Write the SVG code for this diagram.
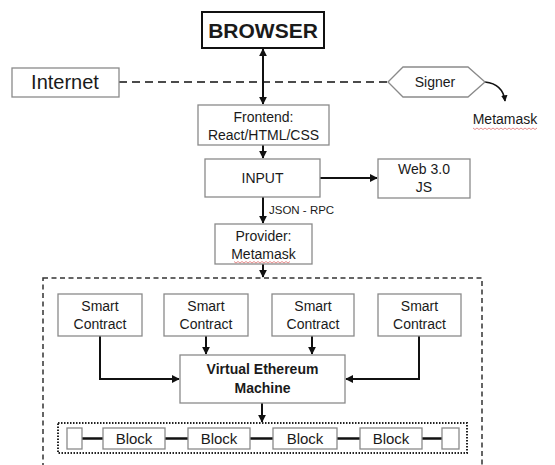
<svg xmlns="http://www.w3.org/2000/svg" width="555" height="465" viewBox="0 0 555 465">
<style>
.box{fill:#fff;stroke:#8a8a8a;stroke-width:1.3}
.t{font-family:"Liberation Sans",Arial,sans-serif;fill:#1a1a1a;text-anchor:middle}
.s14{font-size:14px}
.s15{font-size:15px}
.b{font-weight:bold}
.ln{fill:none;stroke:#111;stroke-width:2}
.thin{fill:none;stroke:#111;stroke-width:1.6}
.sq{fill:none;stroke:#e07070;stroke-width:0.8}
</style>
<defs>
<marker id="ah" viewBox="0 0 10 10" refX="9" refY="5" markerWidth="4" markerHeight="4" orient="auto-start-reverse" markerUnits="strokeWidth">
<path d="M0,0 L10,5 L0,10 z" fill="#111"/>
</marker>
</defs>
<rect width="555" height="465" fill="#fff"/>

<g id="connectors">
<line class="ln" x1="263" y1="49" x2="263" y2="104" marker-start="url(#ah)" marker-end="url(#ah)"/>
<line x1="119" y1="82" x2="388" y2="82" stroke="#111" stroke-width="1.6" stroke-dasharray="8,5"/>
<path class="thin" d="M485,82 Q503,84 505,101" marker-end="url(#ah)"/>
<line class="ln" x1="263" y1="145" x2="263" y2="158" marker-end="url(#ah)"/>
<line class="ln" x1="320" y1="178" x2="377" y2="178" marker-end="url(#ah)"/>
<line class="ln" x1="263" y1="197" x2="263" y2="223" marker-end="url(#ah)"/>
<line class="ln" x1="263" y1="264" x2="263" y2="277" marker-end="url(#ah)"/>
<path class="ln" d="M100,336 V379 H179" marker-end="url(#ah)"/>
<line class="ln" x1="206" y1="336" x2="206" y2="354" marker-end="url(#ah)"/>
<line class="ln" x1="312" y1="336" x2="312" y2="354" marker-end="url(#ah)"/>
<path class="ln" d="M419,336 V379 H346" marker-end="url(#ah)"/>
<line class="ln" x1="262" y1="403" x2="262" y2="422" marker-end="url(#ah)"/>
<g stroke="#111" stroke-width="2.5">
<line x1="82" y1="438.5" x2="103" y2="438.5"/>
<line x1="165" y1="438.5" x2="188" y2="438.5"/>
<line x1="250" y1="438.5" x2="273" y2="438.5"/>
<line x1="337" y1="438.5" x2="360" y2="438.5"/>
<line x1="422" y1="438.5" x2="442" y2="438.5"/>
</g>
</g>

<g id="browser">
<rect x="202" y="12" width="122" height="36" fill="#fff" stroke="#111" stroke-width="2"/>
<text class="t b" x="263" y="38" font-size="21">BROWSER</text>
</g>
<g id="internet">
<rect class="box" x="12" y="68" width="107" height="29"/>
<text class="t" x="65" y="89" font-size="20">Internet</text>
</g>
<g id="signer">
<polygon class="box" points="388,82 403,67 468,67 485,82 468,97 403,97"/>
<text class="t s14" x="435" y="87">Signer</text>
</g>
<g id="metamask">
<text class="t s14" x="505" y="124">Metamask</text>
<path class="sq" d="M473,128 l2,1.5 l2,-1.5 l2,1.5 l2,-1.5 l2,1.5 l2,-1.5 l2,1.5 l2,-1.5 l2,1.5 l2,-1.5 l2,1.5 l2,-1.5 l2,1.5 l2,-1.5 l2,1.5 l2,-1.5 l2,1.5 l2,-1.5 l2,1.5 l2,-1.5 l2,1.5 l2,-1.5 l2,1.5 l2,-1.5 l2,1.5 l2,-1.5 l2,1.5 l2,-1.5 l2,1.5 l2,-1.5 l2,1.5 l2,-1.5"/>
</g>
<g id="frontend">
<rect class="box" x="198" y="105" width="131" height="40"/>
<text class="t s14" x="263.5" y="122">Frontend:</text>
<text class="t s14" x="263.5" y="140">React/HTML/CSS</text>
</g>
<g id="input">
<rect class="box" x="205" y="159" width="115" height="38"/>
<text class="t s14" x="262.5" y="183">INPUT</text>
</g>
<g id="web3">
<rect class="box" x="378" y="159" width="92" height="39"/>
<text class="t s14" x="424" y="174">Web 3.0</text>
<text class="t s14" x="424" y="192">JS</text>
</g>
<text class="t" x="269" y="214" font-size="11.5" text-anchor="start" style="text-anchor:start">JSON - RPC</text>
<g id="provider">
<rect class="box" x="215" y="224" width="97" height="40"/>
<text class="t s14" x="263.5" y="241">Provider:</text>
<text class="t s14" x="263.5" y="259">Metamask</text>
<path class="sq" d="M234,261.5 l2,1.5 l2,-1.5 l2,1.5 l2,-1.5 l2,1.5 l2,-1.5 l2,1.5 l2,-1.5 l2,1.5 l2,-1.5 l2,1.5 l2,-1.5 l2,1.5 l2,-1.5 l2,1.5 l2,-1.5 l2,1.5 l2,-1.5 l2,1.5 l2,-1.5 l2,1.5 l2,-1.5 l2,1.5 l2,-1.5 l2,1.5 l2,-1.5 l2,1.5 l2,-1.5"/>
</g>

<g id="blockchain-area">
<rect x="43" y="278" width="439" height="200" fill="none" stroke="#333" stroke-width="1.5" stroke-dasharray="5,3.5"/>
</g>
<g id="sc1">
<rect class="box" x="58" y="294" width="84" height="42"/>
<text class="t s14" x="100" y="311">Smart</text>
<text class="t s14" x="100" y="329">Contract</text>
</g>
<g id="sc2">
<rect class="box" x="164" y="294" width="84" height="42"/>
<text class="t s14" x="206" y="311">Smart</text>
<text class="t s14" x="206" y="329">Contract</text>
</g>
<g id="sc3">
<rect class="box" x="272" y="294" width="82" height="42"/>
<text class="t s14" x="313" y="311">Smart</text>
<text class="t s14" x="313" y="329">Contract</text>
</g>
<g id="sc4">
<rect class="box" x="378" y="294" width="83" height="42"/>
<text class="t s14" x="419.5" y="311">Smart</text>
<text class="t s14" x="419.5" y="329">Contract</text>
</g>
<g id="evm">
<rect class="box" x="180" y="355" width="165" height="48"/>
<text class="t s14 b" x="262.5" y="374">Virtual Ethereum</text>
<text class="t s14 b" x="262.5" y="393">Machine</text>
</g>
<g id="chain">
<rect x="58" y="423" width="409" height="30" fill="none" stroke="#222" stroke-width="2" stroke-dasharray="1.5,1.5"/>
</g>
<g id="end-left"><rect class="box" x="67" y="428" width="15" height="21"/></g>
<g id="block1"><rect class="box" x="103" y="428" width="62" height="21"/><text class="t s15" x="134" y="444">Block</text></g>
<g id="block2"><rect class="box" x="188" y="428" width="62" height="21"/><text class="t s15" x="219" y="444">Block</text></g>
<g id="block3"><rect class="box" x="273" y="428" width="64" height="21"/><text class="t s15" x="305" y="444">Block</text></g>
<g id="block4"><rect class="box" x="360" y="428" width="62" height="21"/><text class="t s15" x="391" y="444">Block</text></g>
<g id="end-right"><rect class="box" x="442" y="428" width="17" height="21"/></g>
</svg>
